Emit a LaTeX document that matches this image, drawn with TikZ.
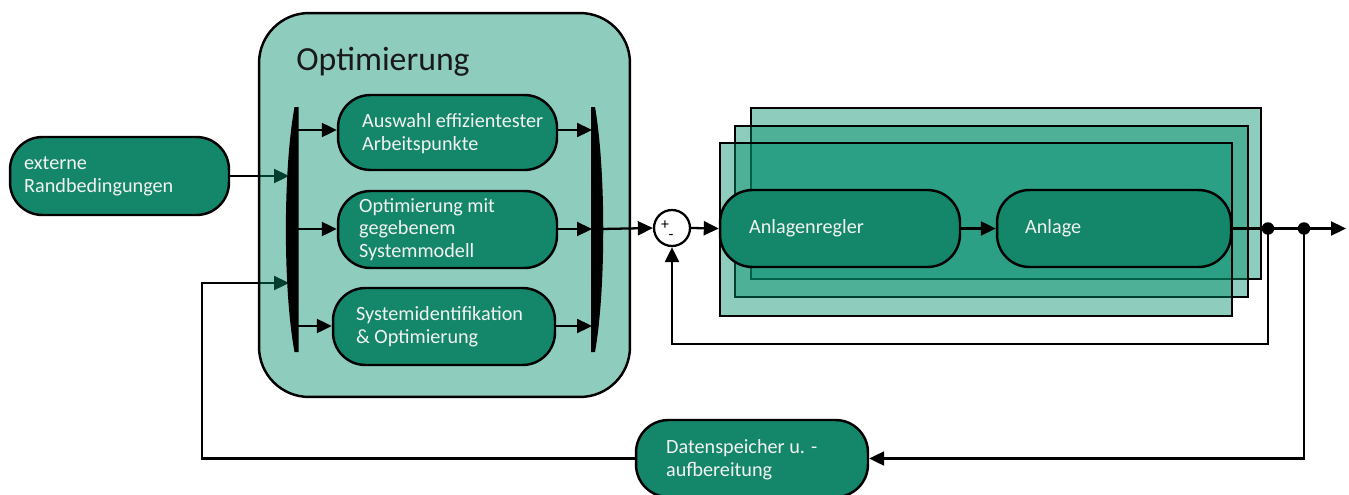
\documentclass[tikz,border=0pt]{standalone}
\usepackage{fontspec}
\setmainfont{Carlito}
\usetikzlibrary{arrows.meta,calc}
\definecolor{dkgreen}{RGB}{20,135,106}
\definecolor{tealzero}{RGB}{0,140,106}
\definecolor{txtw}{RGB}{242,242,242}
\begin{document}
\begin{tikzpicture}[x=0.02cm,y=-0.02cm,
  box/.style={draw=black, line width=1.4pt, fill=dkgreen, rounded corners=0.65cm},
  txt/.style={text=txtw, font=\fontsize{11.5}{13}\selectfont, align=left, inner sep=0pt, anchor=west},
  conn/.style={line width=1.3pt, -{Triangle[length=0.3cm,width=0.28cm]}},
  plainline/.style={line width=1.3pt},
  layer/.style={rectangle, draw=black, line width=1.4pt, fill=tealzero, fill opacity=0.443, inner sep=0pt},
  bar/.style={fill=black},
  dot/.style={circle, fill=black, minimum size=0.25cm, inner sep=0pt}]
\useasboundingbox (0,0) rectangle (1349,494);

% --- elements below the (translucent) Optimierung box
\node[box, minimum width=4.38cm, minimum height=1.56cm] (ext) at (119.5,176) {};
\node[txt] (extt) at ($(ext.west)+(15,0)$) {externe\\Randbedingungen};

\node[box, minimum width=4.64cm, minimum height=1.54cm] (ds) at (752,458.5) {};
\node[txt] (dst) at ($(ds.west)+(31,1)$) {Datenspeicher u. -\\aufbereitung};

\coordinate (lbin1) at (289,176);
\coordinate (lbin2) at (289,283);
\draw[conn] (ext.east) -- (lbin1);
\draw[conn] (ds.west) -| (202,283) -- (lbin2);

% --- Optimierung box
\node[rectangle, draw=black, line width=1.4pt, fill=tealzero, fill opacity=0.443,
      rounded corners=1cm, minimum width=7.42cm, minimum height=7.68cm] (opt) at (444.5,205) {};
\node[anchor=west, inner sep=0pt, text=black!90, font=\fontsize{19.2}{22}\selectfont] (optt) at (296,62) {Optimierung};

% bars
\fill[bar] (294.5,107) -- (298.5,107) -- (298.5,352) -- (294.5,352)
   .. controls (283,290) and (283,170) .. (294.5,107) -- cycle;
\fill[bar] (591,107) -- (595,107) .. controls (606,170) and (606,290) .. (595,352)
   -- (591,352) -- cycle;

% inner boxes
\node[box, minimum width=4.38cm, minimum height=1.5cm] (b1) at (447.5,132.5) {};
\node[txt] (b1t) at ($(b1.west)+(25,1)$) {Auswahl effizientester\\Arbeitspunkte};
\node[box, minimum width=4.38cm, minimum height=1.54cm] (b2) at (447.5,229.5) {};
\node[txt] (b2t) at ($(b2.west)+(22,0)$) {Optimierung mit\\gegebenem\\Systemmodell};
\node[box, minimum width=4.44cm, minimum height=1.54cm] (b3) at (444,326.5) {};
\node[txt] (b3t) at ($(b3.west)+(24,0)$) {Systemidentifikation\\\& Optimierung};

\coordinate (lb1) at (298,130);
\coordinate (lb2) at (298,229);
\coordinate (lb3) at (298,326);
\coordinate (rb1) at (592,130);
\coordinate (rb2) at (592,229);
\coordinate (rb3) at (592,326);
\coordinate (rbout) at (601,229);
\draw[conn] (lb1) -- (b1.west |- lb1);
\draw[conn] (lb2) -- (b2.west |- lb2);
\draw[conn] (lb3) -- (b3.west |- lb3);
\draw[conn] (b1.east |- rb1) -- (rb1);
\draw[conn] (b2.east |- rb2) -- (rb2);
\draw[conn] (b3.east |- rb3) -- (rb3);

% --- control loop
\node[layer, minimum width=10.2cm, minimum height=3.42cm] (r3) at (1006,193.5) {};
\node[layer, minimum width=10.26cm, minimum height=3.42cm] (r2) at (991.5,211.5) {};
\node[layer, minimum width=10.24cm, minimum height=3.46cm] (r1) at (976,229.5) {};

\node[circle, draw=black, line width=1.3pt, fill=white, minimum size=0.72cm, inner sep=0pt] (sum) at (672,228) {};
\node[inner sep=0pt, font=\fontsize{9}{9}\selectfont] (plus) at (665,225) {+};
\node[inner sep=0pt, font=\fontsize{9}{9}\selectfont] (minus) at (671,237) {-};

\node[box, minimum width=4.8cm, minimum height=1.54cm] (ar) at (840,228.5) {};
\node[txt] (art) at ($(ar.west)+(30,0)$) {Anlagenregler};
\node[box, minimum width=4.68cm, minimum height=1.54cm] (an) at (1114,228.5) {};
\node[txt] (ant) at ($(an.west)+(29,0)$) {Anlage};

\node[dot] (d1) at (1268,228.5) {};
\node[dot] (d2) at (1304,228.5) {};
\coordinate (out) at (1346,228.5);

\draw[conn] (rbout) -- (sum.west);
\draw[conn] (sum.east) -- (ar.west);
\draw[conn] (ar.east) -- (an.west);
\draw[plainline] (an.east) -- (d1.center) -- (d2.center);
\draw[conn] (d2.center) -- (out);
\draw[conn] (d1.center) -- (1268,344) -| (sum.south);
\draw[conn] (d2.center) |- (ds.east);
\end{tikzpicture}
\end{document}
